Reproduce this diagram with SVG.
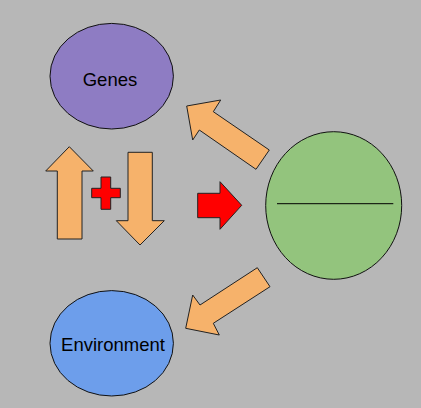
<svg xmlns="http://www.w3.org/2000/svg" width="421" height="408" viewBox="0 0 421 408">
<style>
.bg{fill:#b7b7b7}
.orange{fill:#f6b26b;stroke:#222;stroke-width:1}
.red{fill:#ff0000;stroke:#222;stroke-width:1}
.node{stroke:#111;stroke-width:1}
.lbl{font-family:"Liberation Sans",Arial,sans-serif;font-size:18.5px;fill:#000;text-anchor:middle}
</style>
<rect class="bg" x="0" y="0" width="421" height="408"/>
<g id="genes">
<ellipse class="node" cx="111.7" cy="76.2" rx="61.7" ry="52.8" fill="#8e7cc3"/>
<text class="lbl" x="110" y="86">Genes</text>
</g>
<g id="environment">
<ellipse class="node" cx="111.7" cy="343.3" rx="61.7" ry="52.7" fill="#6d9eeb"/>
<text class="lbl" x="113" y="351">Environment</text>
</g>
<g id="organism">
<ellipse class="node" cx="333.7" cy="205.5" rx="68" ry="73.8" fill="#93c47d"/>
<line x1="277" y1="203.7" x2="393.3" y2="203.7" stroke="#000" stroke-width="1"/>
</g>
<g id="connectors">
<polygon class="orange" points="69.3,146.7 93.3,171 82,171 82,239 57.3,239 57.3,171 45.7,171"/>
<polygon class="orange" points="128,152.3 152.3,152.3 152.3,220.7 164.3,220.7 140,245 116.3,220.7 128,220.7"/>
<polygon class="red" points="101,177 110.7,177 110.7,188.3 120.3,188.3 120.3,197.7 110.7,197.7 110.7,209.3 101,209.3 101,197.7 91.7,197.7 91.7,188.3 101,188.3"/>
<polygon class="red" points="197.7,193.3 220,193.3 220,181.7 241.7,205.3 220,229.3 220,217.7 197.7,217.7"/>
<polygon class="orange" points="186.7,106 220.7,100 213.3,111.7 269.3,150 256,169.3 199.3,130 192.7,140"/>
<polygon class="orange" points="185.7,328.3 192.7,295 200,305 257.3,267.7 270,286.7 213.3,323.3 219.3,335"/>
</g>
</svg>
